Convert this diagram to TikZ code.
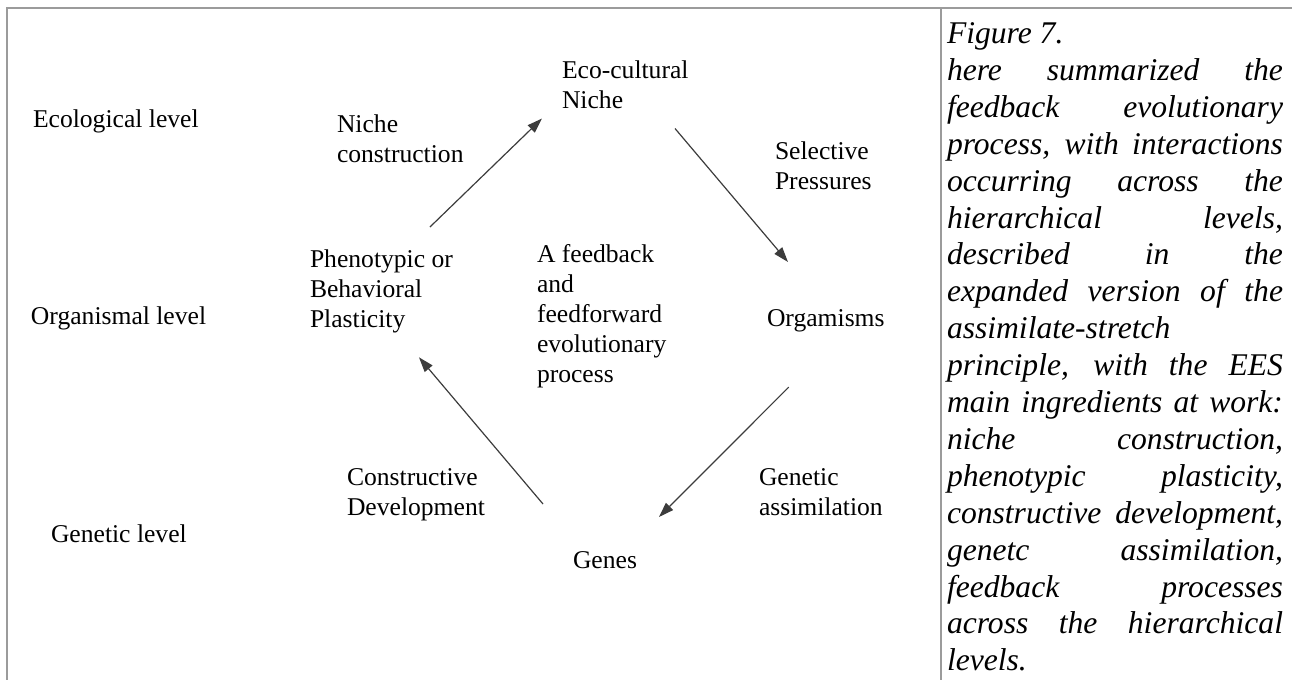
\documentclass[tikz,border=0pt]{standalone}
\usepackage{fontspec}
\setmainfont{Liberation Serif}
\usetikzlibrary{arrows.meta}
\setlength{\parindent}{0pt}
\tolerance=10000
\hbadness=10000
\exhyphenpenalty=10000
\definecolor{framegray}{RGB}{155,155,155}
\definecolor{arrowgray}{RGB}{60,60,60}
\tikzset{
        every node/.style={anchor=north west,align=left,inner sep=0pt,outer sep=0pt},
        diag/.style={font=\fontsize{12.8}{15}\selectfont},
        caption/.style={font=\fontsize{15.8}{18.45}\selectfont\itshape,text width=168pt,align=justify},
        flow/.style={draw=arrowgray,line width=0.6pt,-{Triangle[length=7.5pt,width=5pt]}},
        frame/.style={draw=framegray,line width=0.6pt},
        }

\begin{document}
\begin{tikzpicture}[x=0.5pt,y=-0.5pt]
\useasboundingbox (0,0) rectangle (1292,680);

% frame.....................
\draw [frame] (7,680) -- (7,8) -- (1292,8);
\draw [frame] (941,8) -- (941,680);

% levels......................
\node [diag] (ecolevel) at (33,110) {Ecological level};
\node [diag] (orglevel) at (31,307) {Organismal level};
\node [diag] (genlevel) at (51,525) {Genetic level};

% cycle...................
\node [diag] (niche) at (562,61) {Eco-cultural\\Niche};
\node [diag] (organisms) at (767,310) {Orgamisms};
\node [diag] (genes) at (573,552) {Genes};
\node [diag] (plasticity) at (310,250) {Phenotypic or\\Behavioral\\Plasticity};
\node [diag] (centre) at (537,244) {A feedback\\and\\feedforward\\evolutionary\\process};

% arrow labels...................
\node [diag] (nicheconstr) at (337,115) {Niche\\construction};
\node [diag] (selective) at (775,142) {Selective\\Pressures};
\node [diag] (assimil) at (759,469) {Genetic\\assimilation};
\node [diag] (constrdev) at (347,469) {Constructive\\Development};

% arrows.............
\draw [flow] ([shift={(48.5,-23)}]plasticity.north) -- ([shift={(-20,9.5)}]niche.south west);
\draw [flow] ([shift={(-13.5,19.5)}]niche.south east) -- ([shift={(21,-48)}]organisms.north west);
\draw [flow] ([shift={(-37,54.6)}]organisms.south) -- ([shift={(22,-35)}]genes.north east);
\draw [flow] ([shift={(-30,-48)}]genes.north west) -- ([shift={(37.5,24)}]plasticity.south);

% caption..............................
\node [caption] (fig) at (947,22.6) {Figure 7.\\
here summarized the\linebreak
feedback evolutionary\linebreak
process, with interactions\linebreak
occurring across the\linebreak
hierarchical levels,\linebreak
described in the\linebreak
expanded version of the\linebreak
assimilate-stretch\\
principle, with the EES\linebreak
main ingredients at work:\linebreak
niche construction,\linebreak
phenotypic plasticity,\linebreak
constructive development,\linebreak
genetc assimilation,\linebreak
feedback processes\linebreak
across the hierarchical\linebreak
levels.};
\end{tikzpicture}
\end{document}
